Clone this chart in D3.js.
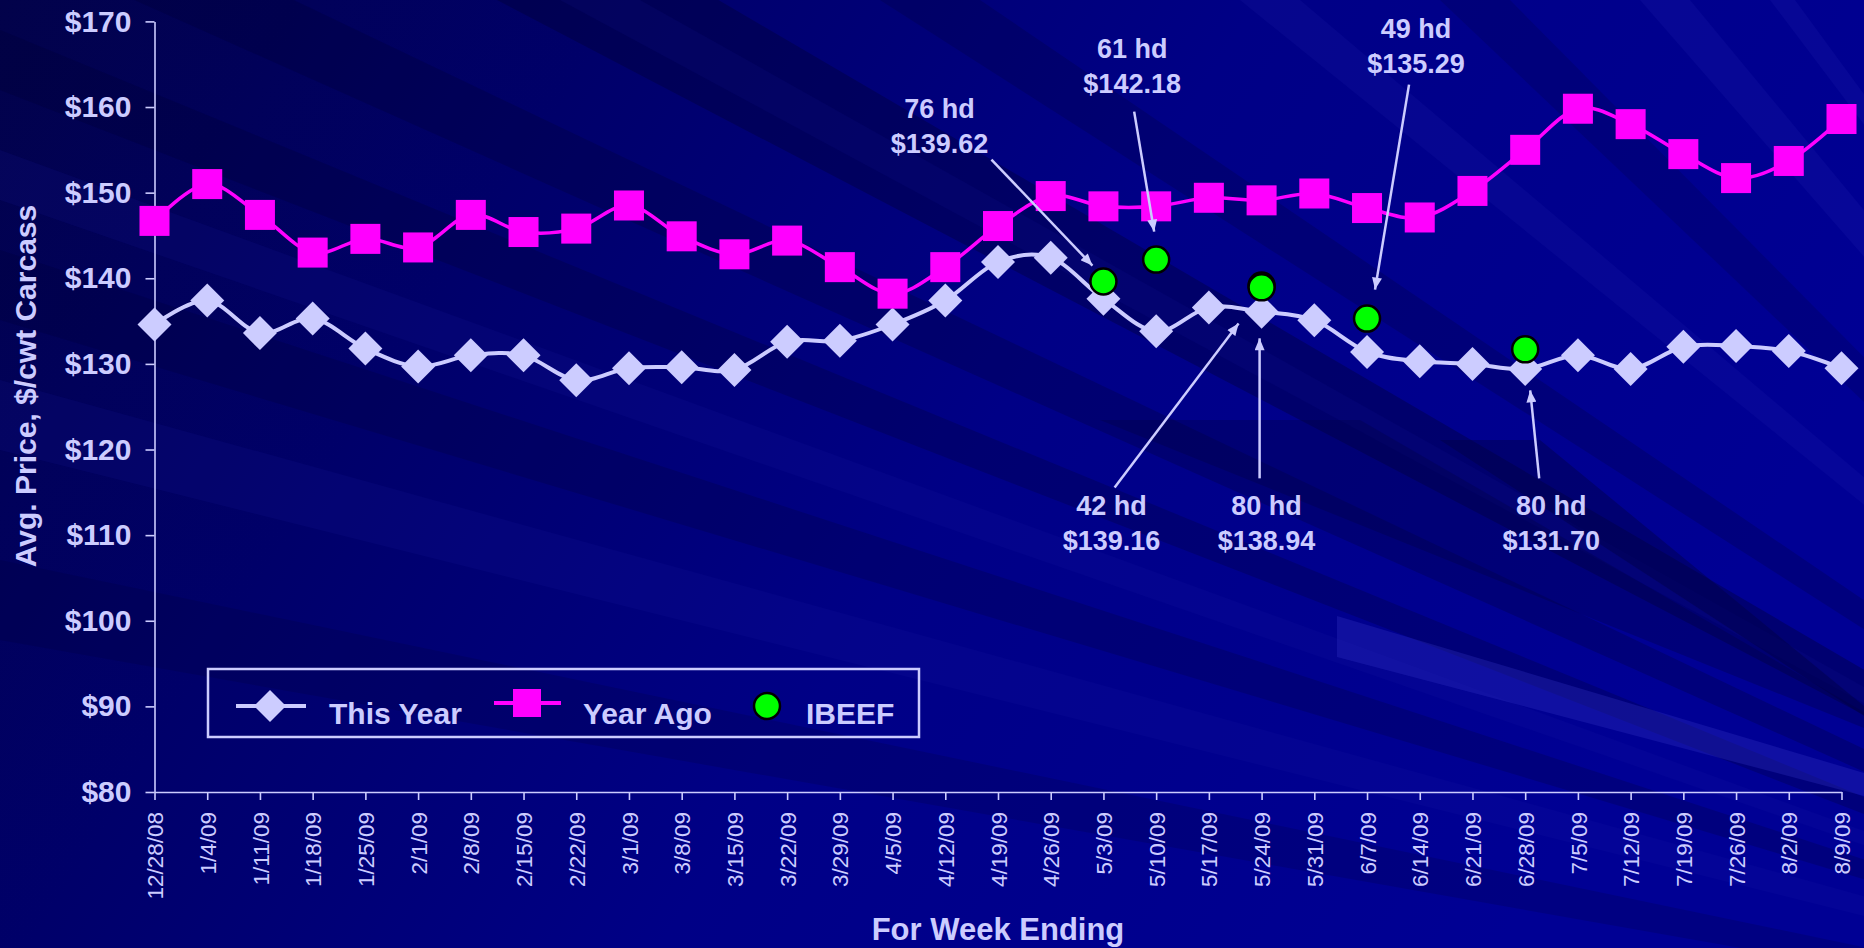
<!DOCTYPE html>
<html>
<head>
<meta charset="utf-8">
<script src="https://cdn.jsdelivr.net/npm/d3@7"></script>
<style>
  html, body { margin: 0; padding: 0; background: #000080; overflow: hidden; }
  svg { display: block; font-family: "Liberation Sans", Arial, sans-serif; }
</style>
</head>
<body>
<svg id="chart" width="1864" height="948"></svg>
<script>
// week ending dates (category axis)
var weeks = ["12/28/08", "1/4/09", "1/11/09", "1/18/09", "1/25/09", "2/1/09", "2/8/09", "2/15/09",
	"2/22/09", "3/1/09", "3/8/09", "3/15/09", "3/22/09", "3/29/09", "4/5/09", "4/12/09", "4/19/09",
	"4/26/09", "5/3/09", "5/10/09", "5/17/09", "5/24/09", "5/31/09", "6/7/09", "6/14/09", "6/21/09",
	"6/28/09", "7/5/09", "7/12/09", "7/19/09", "7/26/09", "8/2/09", "8/9/09"];

// avg price, $/cwt carcass
var thisYear = [134.6, 137.4, 133.6, 135.3, 131.8, 129.7, 131.0, 131.0, 128.1, 129.5, 129.6, 129.3,
	132.6, 132.7, 134.6, 137.4, 141.9, 142.4, 137.6, 133.8, 136.6, 136.1, 135.1, 131.4, 130.3, 130.0,
	129.4, 131.0, 129.4, 132.0, 132.1, 131.5, 129.5];
var yearAgo = [146.7, 151.0, 147.4, 143.0, 144.6, 143.6, 147.4, 145.4, 145.8, 148.5, 144.9, 142.8,
	144.4, 141.3, 138.2, 141.3, 146.1, 149.6, 148.4, 148.4, 149.4, 149.1, 149.9, 148.2, 147.1, 150.2,
	155.0, 159.8, 158.0, 154.5, 151.7, 153.7, 158.6];

// IBEEF sales
var ibeefWeeks = ["5/3/09", "5/10/09", "5/24/09", "5/24/09", "6/7/09", "6/28/09"];
var ibeefPrices = [139.62, 142.18, 139.16, 138.94, 135.29, 131.70];
var ibeefHead = [76, 61, 42, 80, 49, 80];

var yTicks = [80, 90, 100, 110, 120, 130, 140, 150, 160, 170];

// where the callout text and arrows sit, relative to each IBEEF point (same order)
var callouts = [
	{ tx: -164, ty: -164, x1: -112, y1: -122, x2: -11, y2: -16 },
	{ tx: -24, ty: -202, x1: -22, y1: -148, x2: -2, y2: -28 },
	{ tx: -150, ty: 230, x1: -147, y1: 202, x2: -23, y2: 38 },
	{ tx: 5, ty: 228, x1: -2, y1: 191, x2: -2, y2: 51 },
	{ tx: 49, ty: -281, x1: 42, y1: -234, x2: 8, y2: -29 },
	{ tx: 26, ty: 166, x1: 14, y1: 129, x2: 5, y2: 41 }
];

var W = 1864, H = 948;
var lavender = "#CCCCFF", magenta = "#FF00FF", green = "#00FF00";

var svg = d3.select("#chart");
var defs = svg.append("defs");

// ---- background: dark blue with soft diagonal streaks
var grad = defs.append("linearGradient")
	.attr("id", "bg")
	.attr("gradientUnits", "userSpaceOnUse")
	.attr("x1", 0).attr("y1", 0).attr("x2", 1500).attr("y2", 948);
[[0, "#02024a"], [0.3, "#00006a"], [0.6, "#000086"], [1, "#000094"]].forEach(function(s) {
	grad.append("stop").attr("offset", s[0]).attr("stop-color", s[1]);
});
svg.append("rect").attr("width", W).attr("height", H).attr("fill", "url(#bg)");

var focus = [2600, 1100];
var streaks = [
	{ a: [0, -420], b: [0, -260], fill: "#000030", o: 0.35 },
	{ a: [0, -140], b: [0, -60], fill: "#000030", o: 0.25 },
	{ a: [0, 30], b: [0, 90], fill: "#000030", o: 0.25 },
	{ a: [0, 150], b: [0, 200], fill: "#2020b0", o: 0.12 },
	{ a: [0, 250], b: [0, 320], fill: "#000030", o: 0.22 },
	{ a: [0, 380], b: [0, 450], fill: "#2020b0", o: 0.12 },
	{ a: [0, 560], b: [0, 640], fill: "#000030", o: 0.18 },
	{ a: [560, 0], b: [640, 0], fill: "#2020b0", o: 0.1 },
	{ a: [880, 0], b: [980, 0], fill: "#000030", o: 0.22 },
	{ a: [1240, 0], b: [1300, 0], fill: "#3030c0", o: 0.12 },
	{ a: [1440, 0], b: [1510, 0], fill: "#000030", o: 0.18 },
	{ a: [1640, 0], b: [1690, 0], fill: "#3030c0", o: 0.14 },
	{ a: [1770, 0], b: [1795, 0], fill: "#3030c0", o: 0.14 }
];
function far(p) {
	// extend from the focus through p far beyond the frame
	var dx = p[0] - focus[0], dy = p[1] - focus[1];
	return [focus[0] + dx * 3, focus[1] + dy * 3];
}
svg.append("g").selectAll("path")
	.data(streaks)
	.join("path")
	.attr("d", function(s) {
		return "M" + focus + "L" + far(s.a) + "L" + far(s.b) + "Z";
	})
	.attr("fill", function(s) { return s.fill; })
	.attr("opacity", function(s) { return s.o; });

// the streaks near the lower right corner
var cornerStreaks = [
	{ pts: [[1100, 420], [1360, 420], [1864, 712], [1864, 728]], fill: "#000040", o: 0.3 },
	{ pts: [[1440, 440], [1540, 440], [1864, 706], [1864, 716]], fill: "#000040", o: 0.4 },
	{ pts: [[1337, 616], [1864, 773], [1864, 796], [1337, 657]], fill: "#3535c8", o: 0.3 }
];
svg.append("g").selectAll("path")
	.data(cornerStreaks)
	.join("path")
	.attr("d", function(s) { return "M" + s.pts.join("L") + "Z"; })
	.attr("fill", function(s) { return s.fill; })
	.attr("opacity", function(s) { return s.o; });

// ---- scales
var x = d3.scalePoint().domain(weeks).range([154.5, 1841.5]);
var y = d3.scaleLinear().domain([80, 170]).range([792, 21.4]);

// ---- axes
var yAxis = svg.append("g")
	.attr("transform", "translate(154.5,0)")
	.call(d3.axisLeft(y).tickValues(yTicks).tickFormat(function(d) { return "$" + d; })
		.tickSize(9).tickSizeOuter(0).tickPadding(14));
yAxis.selectAll("text")
	.attr("fill", lavender)
	.style("font-size", "30px")
	.style("font-weight", "bold");

var xAxis = svg.append("g")
	.attr("transform", "translate(0,792)")
	.call(d3.axisBottom(x).tickSize(8).tickSizeOuter(0));
xAxis.selectAll("text")
	.attr("fill", lavender)
	.style("font-size", "22.5px")
	.attr("text-anchor", "end")
	.attr("transform", "rotate(-90)")
	.attr("x", -20)
	.attr("y", 0)
	.attr("dy", "0.36em");

svg.selectAll(".domain, .tick line")
	.attr("stroke", lavender)
	.attr("stroke-width", 1.6);

// axis titles
svg.append("text")
	.attr("transform", "translate(36,386) rotate(-90)")
	.attr("text-anchor", "middle")
	.attr("fill", lavender)
	.style("font-size", "30px")
	.style("font-weight", "bold")
	.text("Avg. Price, $/cwt Carcass");

svg.append("text")
	.attr("x", 998)
	.attr("y", 940)
	.attr("text-anchor", "middle")
	.attr("fill", lavender)
	.style("font-size", "31px")
	.style("font-weight", "bold")
	.text("For Week Ending");

// ---- series
var line = d3.line()
	.x(function(d, i) { return x(weeks[i]); })
	.y(function(d) { return y(d); })
	.curve(d3.curveCatmullRom.alpha(0));

function diamond(g, cx, cy, r) {
	g.append("path")
		.attr("d", "M" + cx + "," + (cy - r) + "L" + (cx + r) + "," + cy + "L" + cx + "," + (cy + r) + "L" + (cx - r) + "," + cy + "Z")
		.attr("fill", lavender);
}

svg.append("path")
	.datum(thisYear)
	.attr("d", line)
	.attr("fill", "none")
	.attr("stroke", lavender)
	.attr("stroke-width", 4);

svg.append("path")
	.datum(yearAgo)
	.attr("d", line)
	.attr("fill", "none")
	.attr("stroke", magenta)
	.attr("stroke-width", 3.5);

var dmd = svg.append("g");
thisYear.forEach(function(v, i) {
	diamond(dmd, x(weeks[i]), y(v), 17);
});

svg.append("g").selectAll("rect")
	.data(yearAgo)
	.join("rect")
	.attr("x", function(d, i) { return x(weeks[i]) - 15; })
	.attr("y", function(d) { return y(d) - 15; })
	.attr("width", 30)
	.attr("height", 30)
	.attr("fill", magenta);

svg.append("g").selectAll("circle")
	.data(ibeefPrices)
	.join("circle")
	.attr("cx", function(d, i) { return x(ibeefWeeks[i]); })
	.attr("cy", function(d) { return y(d); })
	.attr("r", 13)
	.attr("fill", green)
	.attr("stroke", "#000")
	.attr("stroke-width", 2.5);

// ---- callouts
defs.append("marker")
	.attr("id", "arrow")
	.attr("viewBox", "0 0 12 10")
	.attr("refX", 12).attr("refY", 5)
	.attr("markerWidth", 13).attr("markerHeight", 10)
	.attr("markerUnits", "userSpaceOnUse")
	.attr("orient", "auto")
	.append("path")
	.attr("d", "M0,0L12,5L0,10Z")
	.attr("fill", lavender);

var notes = svg.append("g");
ibeefPrices.forEach(function(p, i) {
	var px = x(ibeefWeeks[i]), py = y(p), c = callouts[i];
	notes.append("line")
		.attr("x1", px + c.x1).attr("y1", py + c.y1)
		.attr("x2", px + c.x2).attr("y2", py + c.y2)
		.attr("stroke", lavender)
		.attr("stroke-width", 2.5)
		.attr("marker-end", "url(#arrow)");
	var t = notes.append("text")
		.attr("text-anchor", "middle")
		.attr("fill", lavender)
		.style("font-size", "27px")
		.style("font-weight", "bold");
	t.append("tspan").attr("x", px + c.tx).attr("y", py + c.ty).text(ibeefHead[i] + " hd");
	t.append("tspan").attr("x", px + c.tx).attr("y", py + c.ty + 35).text("$" + p.toFixed(2));
});

// ---- legend
var legend = svg.append("g");
legend.append("rect")
	.attr("x", 208).attr("y", 669)
	.attr("width", 711).attr("height", 68)
	.attr("fill", "none")
	.attr("stroke", lavender)
	.attr("stroke-width", 2.5);

legend.append("line").attr("x1", 236).attr("x2", 306).attr("y1", 706).attr("y2", 706)
	.attr("stroke", lavender).attr("stroke-width", 4);
diamond(legend, 270, 706, 16);
legend.append("line").attr("x1", 494).attr("x2", 561).attr("y1", 703).attr("y2", 703)
	.attr("stroke", magenta).attr("stroke-width", 4);
legend.append("rect").attr("x", 513).attr("y", 689).attr("width", 28).attr("height", 28)
	.attr("fill", magenta);
legend.append("circle").attr("cx", 767).attr("cy", 706).attr("r", 13)
	.attr("fill", green).attr("stroke", "#000").attr("stroke-width", 2.5);

[["This Year", 329], ["Year Ago", 583], ["IBEEF", 806]].forEach(function(item) {
	legend.append("text")
		.attr("x", item[1]).attr("y", 724)
		.attr("fill", lavender)
		.style("font-size", "30px")
		.style("font-weight", "bold")
		.text(item[0]);
});
</script>
</body>
</html>
